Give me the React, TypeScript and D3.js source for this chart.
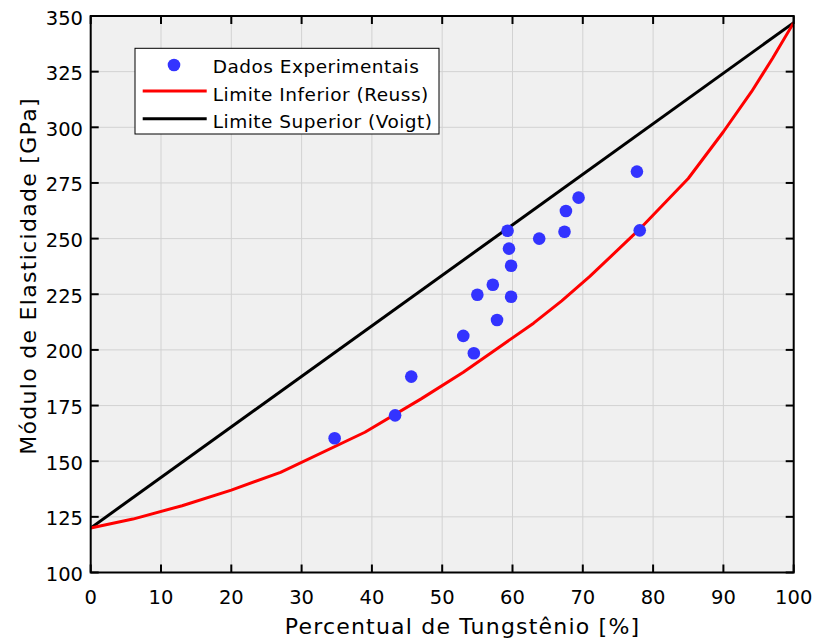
import React from "react";
import * as d3 from "d3";

// Experimental measurements: tungsten percentage vs elastic modulus (GPa)
const expTungsten = [34.7, 43.3, 45.6, 53.0, 54.5, 55.0, 57.2, 57.8, 59.3, 59.5, 59.8, 59.8, 63.8, 67.4, 67.6, 69.4, 77.7, 78.1];
const expModulus = [160.3, 170.6, 188.0, 206.3, 198.5, 224.8, 229.3, 213.4, 253.5, 245.5, 237.8, 223.9, 250.0, 253.1, 262.4, 268.4, 280.1, 253.7];

// Lower bound (Reuss)
const reussTungsten = [0, 6, 13, 20, 27, 39, 47, 53, 58, 63, 67, 71, 78, 85, 90, 94, 97, 100];
const reussModulus = [120, 124, 130, 137, 145, 163, 178, 190, 201, 212, 222, 233, 254, 277, 298, 316, 331, 347];

// Upper bound (Voigt)
const voigtTungsten = [0, 100];
const voigtModulus = [120, 347];

const xTicks = [0, 10, 20, 30, 40, 50, 60, 70, 80, 90, 100];
const yTicks = [100, 125, 150, 175, 200, 225, 250, 275, 300, 325, 350];

const legendLabels = ["Dados Experimentais", "Limite Inferior (Reuss)", "Limite Superior (Voigt)"];

const W = 819;
const H = 641;
const M = { left: 90.7, right: 793.7, top: 16, bottom: 572.5 };
const FONT = "'DejaVu Sans', Verdana, sans-serif";

export default function App() {
  const x = d3.scaleLinear().domain([0, 100]).range([M.left, M.right]);
  const y = d3.scaleLinear().domain([100, 350]).range([M.bottom, M.top]);
  const line = d3
    .line<[number, number]>()
    .x((d) => x(d[0]))
    .y((d) => y(d[1]));

  const reuss = reussTungsten.map((t, i) => [t, reussModulus[i]] as [number, number]);
  const voigt = voigtTungsten.map((t, i) => [t, voigtModulus[i]] as [number, number]);
  const tick = 8;

  return (
    <svg
      width={W}
      height={H}
      style={{ position: "absolute", left: 0, top: 0, background: "#fff" }}
      fontFamily={FONT}
    >
      <defs>
        <clipPath id="plotClip">
          <rect x={M.left} y={M.top} width={M.right - M.left} height={M.bottom - M.top} />
        </clipPath>
      </defs>
      <rect x={M.left} y={M.top} width={M.right - M.left} height={M.bottom - M.top} fill="#f0f0f0" />

      {/* grid */}
      {xTicks.map((t) => (
        <line key={"gx" + t} x1={x(t)} x2={x(t)} y1={M.top} y2={M.bottom} stroke="#d2d2d2" strokeWidth={1} />
      ))}
      {yTicks.map((t) => (
        <line key={"gy" + t} x1={M.left} x2={M.right} y1={y(t)} y2={y(t)} stroke="#d2d2d2" strokeWidth={1} />
      ))}

      <g clipPath="url(#plotClip)">
        <path d={line(voigt) || ""} fill="none" stroke="#000" strokeWidth={3} />
        <path d={line(reuss) || ""} fill="none" stroke="#ff0000" strokeWidth={3} strokeLinejoin="round" />
        {expTungsten.map((t, i) => (
          <circle key={"p" + i} cx={x(t)} cy={y(expModulus[i])} r={6.3} fill="#3333ff" />
        ))}
      </g>

      {/* ticks on all four sides, pointing inward */}
      {xTicks.map((t) => (
        <g key={"tx" + t}>
          <line x1={x(t)} x2={x(t)} y1={M.bottom} y2={M.bottom - tick} stroke="#000" strokeWidth={2} />
          <line x1={x(t)} x2={x(t)} y1={M.top} y2={M.top + tick} stroke="#000" strokeWidth={2} />
          <text x={x(t)} y={603.5} textAnchor="middle" fontSize={19.5} fill="#000">
            {t}
          </text>
        </g>
      ))}
      {yTicks.map((t) => (
        <g key={"ty" + t}>
          <line x1={M.left} x2={M.left + tick} y1={y(t)} y2={y(t)} stroke="#000" strokeWidth={2} />
          <line x1={M.right} x2={M.right - tick} y1={y(t)} y2={y(t)} stroke="#000" strokeWidth={2} />
          <text x={83} y={y(t) + 8.5} textAnchor="end" fontSize={19.5} fill="#000">
            {t}
          </text>
        </g>
      ))}

      <rect
        x={M.left}
        y={M.top}
        width={M.right - M.left}
        height={M.bottom - M.top}
        fill="none"
        stroke="#000"
        strokeWidth={2}
      />

      {/* axis titles */}
      <text x={462.5} y={633.5} textAnchor="middle" fontSize={22} letterSpacing={1.2} fill="#000">
        Percentual de Tungstênio [%]
      </text>
      <text
        transform={`translate(36, 276) rotate(-90)`}
        textAnchor="middle"
        fontSize={22}
        letterSpacing={1.3}
        fill="#000"
      >
        Módulo de Elasticidade [GPa]
      </text>

      {/* legend */}
      <g>
        <rect x={135} y={48.3} width={304} height={85.7} fill="#fff" stroke="#000" strokeWidth={1} />
        <circle cx={174} cy={65} r={6.3} fill="#3333ff" />
        <line x1={142.7} x2={206.7} y1={91} y2={91} stroke="#ff0000" strokeWidth={3} />
        <line x1={142.7} x2={206.7} y1={118.7} y2={118.7} stroke="#000" strokeWidth={3} />
        {legendLabels.map((l, i) => (
          <text key={l} x={212.7} y={73 + i * 27.5} fontSize={18.5} letterSpacing={0.5} fill="#000">
            {l}
          </text>
        ))}
      </g>
    </svg>
  );
}
